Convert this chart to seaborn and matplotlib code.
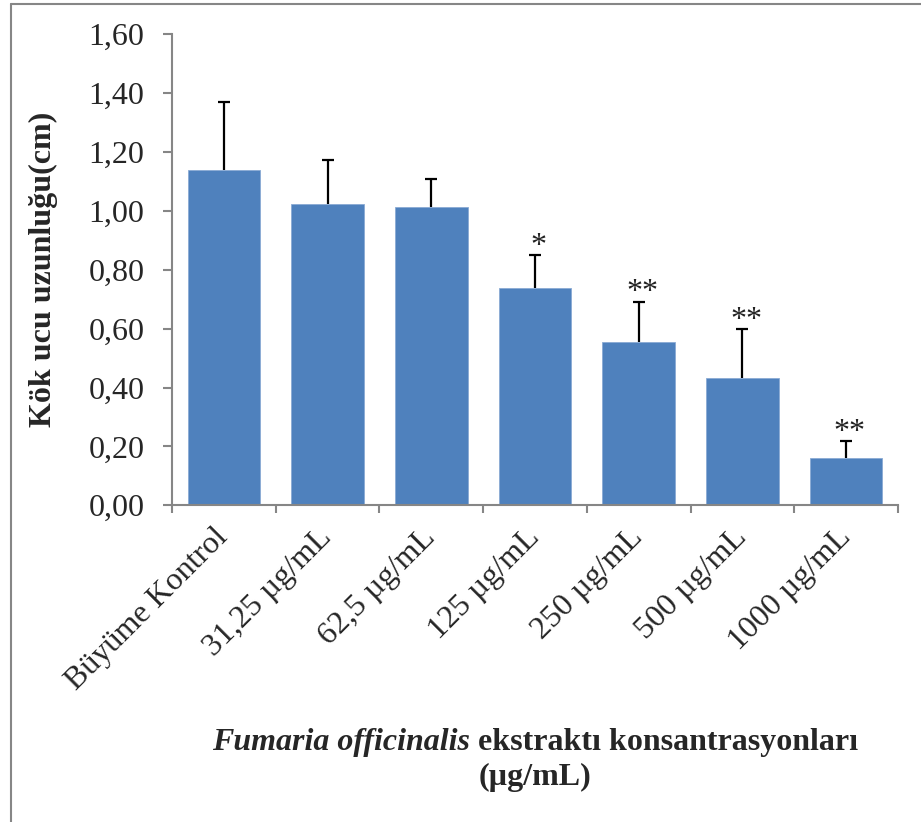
import numpy as np
import pandas as pd
import matplotlib
matplotlib.use('Agg')
import matplotlib.pyplot as plt
from matplotlib.lines import Line2D
import seaborn as sns

# Values
categories = ['Büyüme Kontrol', '31,25 µg/mL', '62,5 µg/mL', '125 µg/mL',
              '250 µg/mL', '500 µg/mL', '1000 µg/mL']
means = [1.138, 1.022, 1.012, 0.737, 0.554, 0.432, 0.160]
errors = [0.232, 0.151, 0.096, 0.114, 0.138, 0.166, 0.058]
stars = ['', '', '', '*', '**', '**', '**']
yticks = [0.0, 0.2, 0.4, 0.6, 0.8, 1.0, 1.2, 1.4, 1.6]

df = pd.DataFrame({'konsantrasyon': categories, 'uzunluk': means})

sns.set_theme(style='white')
plt.rcParams['font.family'] = ['Liberation Serif', 'DejaVu Serif']

axis_grey = '#868686'
bar_blue = '#4F81BD'
fs = 23

fig = plt.figure(figsize=(9.21, 8.22), dpi=100)
ax = fig.add_axes([0.1868, 0.3853, 0.975 - 0.1868, 0.9583 - 0.3853])

sns.barplot(data=df, x='konsantrasyon', y='uzunluk', color=bar_blue,
            saturation=1, width=0.7, errorbar=None, ax=ax,
            edgecolor='#8AAAD4', linewidth=0.6)

x = np.arange(len(categories))
_, caps, _ = ax.errorbar(x, means, yerr=[np.zeros(len(means)), errors], fmt='none',
                         ecolor='black', elinewidth=1.6, capsize=4.5, capthick=1.6,
                         zorder=3)
# only the upper caps are wanted
caps[0].set_visible(False)

# significance marks above the error bars
for xi, m, e, s in zip(x, means, errors, stars):
    if s:
        ax.text(xi + 0.035, m + e - 0.02, s, ha='center', va='bottom',
                fontsize=fs, color='#222222')

ax.set_xlim(-0.5, len(categories) - 0.5)
ax.set_ylim(0, 1.6)
ax.set_yticks(yticks)
ax.set_yticklabels([f'{v:.2f}'.replace('.', ',') for v in yticks], fontsize=fs)

ax.set_xticks(x)
ax.set_xticklabels(categories, rotation=45, ha='right', va='center',
                   rotation_mode='anchor', fontsize=fs)
ax.set_xticks(np.arange(-0.5, len(categories)), minor=True)
ax.tick_params(axis='x', which='major', length=0, pad=20)
ax.tick_params(axis='x', which='minor', length=5.8, width=1.5, color=axis_grey,
               direction='out', bottom=True)
ax.tick_params(axis='y', length=6.5, width=1.5, color=axis_grey, direction='out',
               left=True, pad=13.5)

for side in ['top', 'right']:
    ax.spines[side].set_visible(False)
for side in ['left', 'bottom']:
    ax.spines[side].set_color(axis_grey)
    ax.spines[side].set_linewidth(1.5)

ax.set_xlabel('')
ax.set_ylabel('Kök ucu uzunluğu(cm)', fontsize=fs, fontweight='bold')
ax.yaxis.set_label_coords(-0.157, 0.5)

# two-part x axis title: italic species name plus bold text, centred together
y1 = 1 - 742 / 822
t1 = fig.text(0, y1, 'Fumaria officinalis', ha='left', va='center',
              fontsize=fs, fontweight='bold', fontstyle='italic')
t2 = fig.text(0, y1, ' ekstraktı konsantrasyonları', ha='left', va='center',
              fontsize=fs, fontweight='bold')
fig.canvas.draw()
r = fig.canvas.get_renderer()
w1 = t1.get_window_extent(r).width / fig.bbox.width
w2 = t2.get_window_extent(r).width / fig.bbox.width
x0 = 535 / 921 - (w1 + w2) / 2
t1.set_x(x0)
t2.set_x(x0 + w1)
fig.text(535 / 921, 1 - 777 / 822, '(µg/mL)', ha='center', va='center',
         fontsize=fs, fontweight='bold')

# chart frame (only top and left edges visible in the crop)
fig.add_artist(Line2D([11 / 921, 11 / 921], [0, 1 - 4 / 822], color=axis_grey,
                      linewidth=1.5, transform=fig.transFigure))
fig.add_artist(Line2D([11 / 921, 1], [1 - 4 / 822, 1 - 4 / 822], color=axis_grey,
                      linewidth=1.5, transform=fig.transFigure))

fig.savefig('out.png', dpi=100)
